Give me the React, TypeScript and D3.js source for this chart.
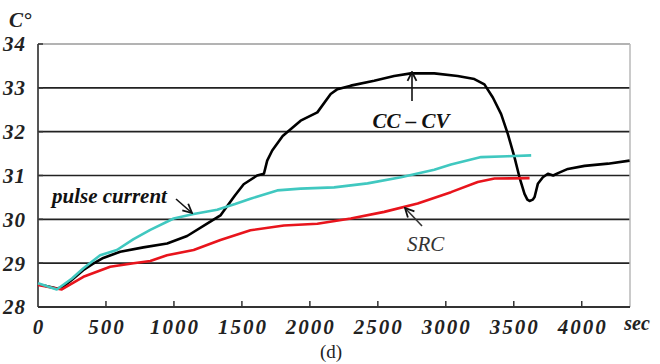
import React from "react";
import * as d3 from "d3";

const ccTime = [0, 60, 140, 180, 250, 332, 400, 480, 605, 775, 950, 1097, 1244, 1342, 1391, 1450, 1513, 1612, 1662, 1686, 1723, 1800, 1932, 2055, 2153, 2203, 2301, 2473, 2620, 2743, 2915, 3087, 3210, 3284, 3346, 3407, 3456, 3505, 3542, 3579, 3600, 3616, 3640, 3653, 3677, 3714, 3751, 3790, 3830, 3898, 4021, 4193, 4352];
const ccTemp = [28.52, 28.48, 28.42, 28.45, 28.62, 28.84, 28.98, 29.12, 29.26, 29.36, 29.45, 29.62, 29.9, 30.09, 30.3, 30.55, 30.8, 31.0, 31.04, 31.34, 31.57, 31.9, 32.25, 32.44, 32.86, 32.97, 33.05, 33.16, 33.27, 33.33, 33.33, 33.27, 33.2, 33.08, 32.78, 32.4, 31.95, 31.42, 30.96, 30.58, 30.45, 30.42, 30.45, 30.51, 30.81, 30.96, 31.04, 31.0, 31.06, 31.15, 31.22, 31.27, 31.34];

const pulseTime = [0, 138, 250, 332, 457, 580, 703, 826, 998, 1145, 1318, 1450, 1563, 1760, 1932, 2178, 2424, 2670, 2915, 3038, 3260, 3456, 3628];
const pulseTemp = [28.54, 28.4, 28.65, 28.88, 29.18, 29.3, 29.55, 29.76, 30.02, 30.12, 30.22, 30.35, 30.47, 30.66, 30.7, 30.73, 30.82, 30.96, 31.13, 31.25, 31.42, 31.44, 31.46];

const srcTime = [0, 175, 334, 531, 703, 826, 949, 1145, 1342, 1563, 1809, 2055, 2301, 2547, 2793, 3038, 3235, 3358, 3616];
const srcTemp = [28.5, 28.4, 28.69, 28.92, 29.0, 29.05, 29.18, 29.3, 29.53, 29.75, 29.86, 29.9, 30.02, 30.17, 30.36, 30.62, 30.85, 30.93, 30.94];

const xTicks = [0, 500, 1000, 1500, 2000, 2500, 3000, 3500, 4000];
const yTicks = [28, 29, 30, 31, 32, 33, 34];

const FONT = "Liberation Serif, Times New Roman, serif";

export default function App() {
  const x = d3.scaleLinear().domain([0, 4355]).range([38, 630]);
  const y = d3.scaleLinear().domain([28, 34]).range([307, 44]);
  const mk = (t: number[], v: number[]) =>
    d3.line<number>().x((_, i) => x(t[i])).y((d) => y(d))(v) || "";

  const series = [
    { t: ccTime, v: ccTemp, color: "#000000" },
    { t: srcTime, v: srcTemp, color: "#e8141c" },
    { t: pulseTime, v: pulseTemp, color: "#40c8c0" },
  ];

  return (
    <svg
      width={660}
      height={364}
      style={{ position: "absolute", left: 0, top: 0, background: "#fff" }}
    >
      <defs>
        <marker id="ah" viewBox="0 0 10 10" refX="9" refY="5" markerWidth="7" markerHeight="7" orient="auto">
          <path d="M1,1 L9,5 L1,9" fill="none" stroke="#111" strokeWidth="1.6" />
        </marker>
      </defs>
      {yTicks.slice(1).map((t) => (
        <line
          key={t}
          x1={x(0)}
          x2={x(4355)}
          y1={y(t)}
          y2={y(t)}
          stroke={t === 34 ? "#9a9a9a" : "#222"}
          strokeWidth={1.6}
        />
      ))}
      <line x1={x(4355)} x2={x(4355)} y1={y(34)} y2={y(28)} stroke="#b8b8b8" strokeWidth={1.5} />
      <line x1={x(0)} x2={x(0)} y1={y(34)} y2={y(28)} stroke="#555" strokeWidth={2} />
      {yTicks.map((t) => (
        <line key={"yt" + t} x1={x(0)} x2={x(0) + 5} y1={y(t)} y2={y(t)} stroke="#333" strokeWidth={1.5} />
      ))}
      <line x1={x(0)} x2={x(4355)} y1={y(28)} y2={y(28)} stroke="#333" strokeWidth={2} />
      {xTicks.slice(1).map((t) => (
        <line key={"xt" + t} x1={x(t)} x2={x(t)} y1={y(28)} y2={y(28) - 6} stroke="#333" strokeWidth={1.5} />
      ))}
      {series.map((s, i) => (
        <path key={i} d={mk(s.t, s.v)} fill="none" stroke={s.color} strokeWidth={2.6} strokeLinejoin="round" />
      ))}
      {yTicks.map((t) => (
        <text
          key={"yl" + t}
          x={26}
          y={y(t)}
          dy="0.35em"
          textAnchor="end"
          fontFamily={FONT}
          fontStyle="italic"
          fontWeight="bold"
          fontSize={21}
          letterSpacing={1}
          fill="#222"
        >
          {t}
        </text>
      ))}
      {xTicks.map((t) => (
        <text
          key={"xl" + t}
          x={x(t) + 1}
          y={334}
          textAnchor="middle"
          fontFamily={FONT}
          fontStyle="italic"
          fontWeight="bold"
          fontSize={21}
          letterSpacing={2}
          fill="#222"
        >
          {t}
        </text>
      ))}
      <text x={637} y={330} textAnchor="middle" fontFamily={FONT} fontStyle="italic" fontWeight="bold" fontSize={20} fill="#222">
        sec
      </text>
      <text x={9} y={27} fontFamily={FONT} fontStyle="italic" fontWeight="bold" fontSize={21} fill="#222">
        C°
      </text>
      <text x={331} y={358} textAnchor="middle" fontFamily={FONT} fontSize={19} fill="#222">
        (d)
      </text>
      <text x={52} y={203} fontFamily={FONT} fontStyle="italic" fontWeight="bold" fontSize={21} fill="#111">
        pulse current
      </text>
      <line x1={176} y1={199} x2={192} y2={213} stroke="#111" strokeWidth={1.6} markerEnd="url(#ah)" />
      <text x={411} y={128} textAnchor="middle" fontFamily={FONT} fontStyle="italic" fontWeight="bold" fontSize={21} fill="#111">
        CC – CV
      </text>
      <line x1={412} y1={101} x2={412} y2={72} stroke="#111" strokeWidth={1.6} markerEnd="url(#ah)" />
      <text x={407} y={251} fontFamily={FONT} fontStyle="italic" fontSize={21} fill="#333">
        SRC
      </text>
      <line x1={422} y1={226} x2={405} y2={208} stroke="#333" strokeWidth={1.6} markerEnd="url(#ah)" />
    </svg>
  );
}
